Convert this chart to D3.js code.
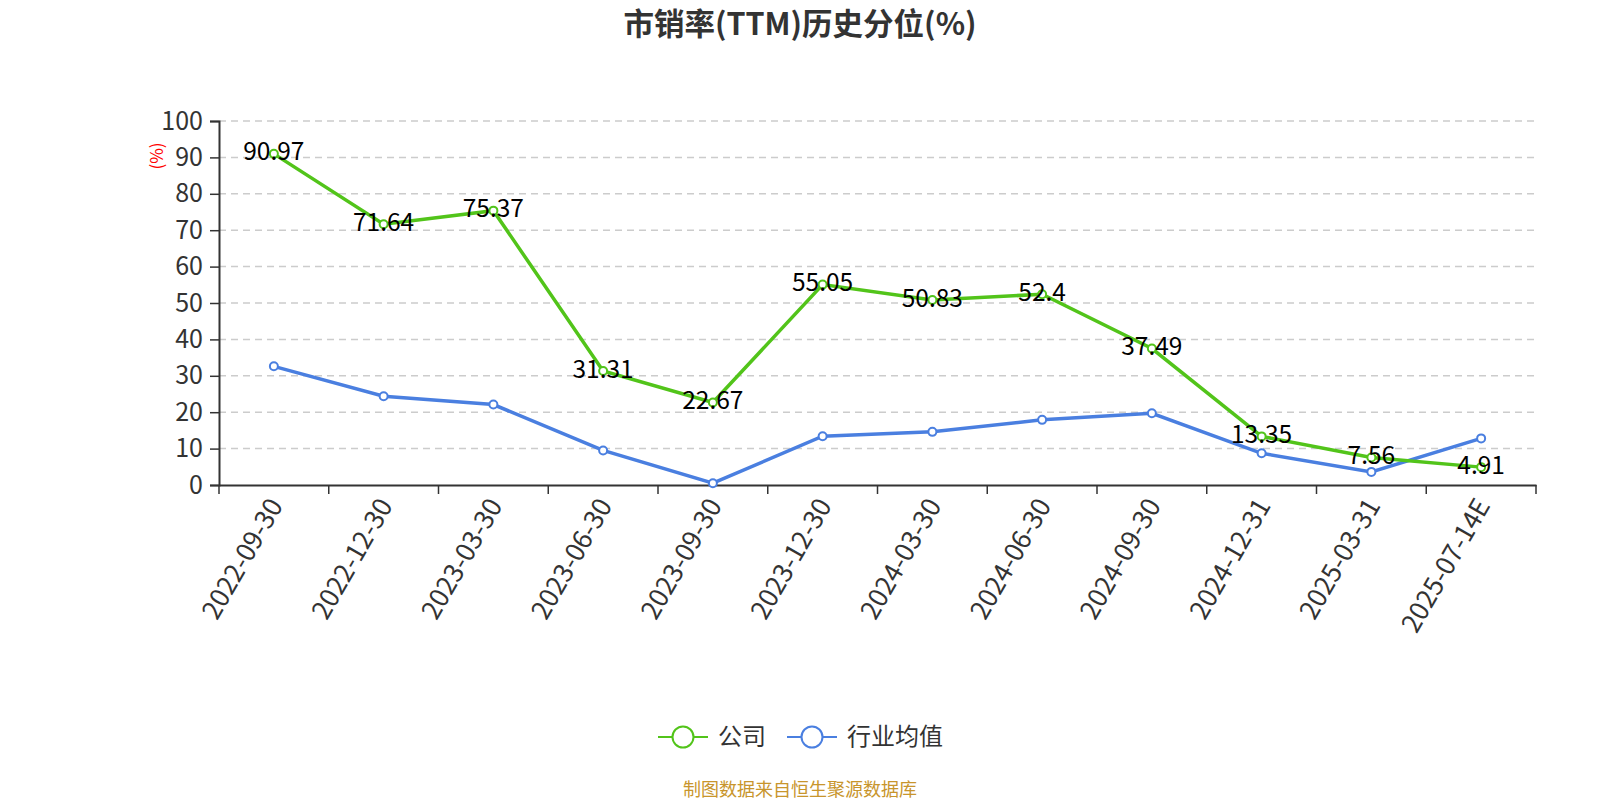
<!DOCTYPE html>
<html lang="zh">
<head>
<meta charset="UTF-8" />
<script src="https://d3js.org/d3.v7.min.js"></script>
<title>市销率(TTM)历史分位(%)</title>
<style>
  body { margin: 0; background: #fff; }
  svg text { font-family: "Noto Sans CJK SC", "Noto Sans", sans-serif; }
</style>
</head>
<body>
<script>
  const dates = ["2022-09-30", "2022-12-30", "2023-03-30", "2023-06-30", "2023-09-30", "2023-12-30",
    "2024-03-30", "2024-06-30", "2024-09-30", "2024-12-31", "2025-03-31", "2025-07-14E"];
  const company = [90.97, 71.64, 75.37, 31.31, 22.67, 55.05, 50.83, 52.4, 37.49, 13.35, 7.56, 4.91];
  const industry = [32.6, 24.4, 22.1, 9.5, 0.5, 13.4, 14.6, 17.9, 19.7, 8.7, 3.6, 12.8];
  const yTicks = [0, 10, 20, 30, 40, 50, 60, 70, 80, 90, 100];

  const W = 1600, H = 800;
  const plotLeft = 219, plotRight = 1536, plotTop = 121, plotBottom = 485;

  const svg = d3.select("body").append("svg").attr("width", W).attr("height", H);

  const x = d3.scaleBand().domain(dates).range([plotLeft, plotRight]);
  const y = d3.scaleLinear().domain([0, 100]).range([plotBottom, plotTop]);
  const cx = d => x(d) + x.bandwidth() / 2;

  // title
  svg.append("text")
    .attr("x", 800).attr("y", 35)
    .attr("text-anchor", "middle")
    .style("font-size", "30.5px").style("font-weight", "bold").attr("fill", "#333")
    .text("市销率(TTM)历史分位(%)");

  // grid
  svg.append("g").selectAll("line").data(yTicks.filter(d => d > 0)).join("line")
    .attr("x1", plotLeft).attr("x2", plotRight)
    .attr("y1", d => y(d)).attr("y2", d => y(d))
    .attr("stroke", "#ccc").attr("stroke-width", 1.5).attr("stroke-dasharray", "7,5");

  // y axis
  const yAxis = svg.append("g").attr("transform", `translate(${plotLeft},0)`)
    .call(d3.axisLeft(y).tickValues(yTicks).tickSize(9).tickPadding(7));
  yAxis.select(".domain").attr("stroke", "#333").attr("stroke-width", 2);
  yAxis.selectAll(".tick line").attr("stroke", "#333").attr("stroke-width", 1.5);
  yAxis.selectAll(".tick text").style("font-size", "25px").attr("fill", "#333");

  svg.append("text")
    .attr("transform", "translate(163,156) rotate(-90)")
    .attr("text-anchor", "middle")
    .style("font-size", "17px").attr("fill", "red")
    .text("(%)");

  // x axis
  const xAxis = svg.append("g").attr("transform", `translate(0,${plotBottom})`)
    .call(d3.axisBottom(x).tickSize(0).tickSizeOuter(0));
  xAxis.select(".domain").attr("stroke", "#333").attr("stroke-width", 2);
  xAxis.selectAll(".tick text")
    .style("font-size", "26px").attr("fill", "#333")
    .attr("text-anchor", "end")
    .attr("transform", "translate(2,16) rotate(-60)")
    .attr("dy", "0.35em").attr("x", 0).attr("y", 0);
  const boundaries = dates.map(d => x(d)).concat([plotRight]);
  svg.append("g").selectAll("line").data(boundaries).join("line")
    .attr("x1", d => d).attr("x2", d => d)
    .attr("y1", plotBottom).attr("y2", plotBottom + 9)
    .attr("stroke", "#333").attr("stroke-width", 1.5);

  const series = [
    { name: "公司", values: company, color: "#52c41a" },
    { name: "行业均值", values: industry, color: "#4a7fe0" }
  ];

  const line = d3.line().x((d, i) => cx(dates[i])).y(d => y(d));

  series.slice().reverse().forEach(s => {
    const g = svg.append("g");
    g.append("path").datum(s.values)
      .attr("d", line).attr("fill", "none")
      .attr("stroke", s.color).attr("stroke-width", 3.5);
    g.selectAll("circle").data(s.values).join("circle")
      .attr("cx", (d, i) => cx(dates[i])).attr("cy", d => y(d))
      .attr("r", 4).attr("fill", "#fff")
      .attr("stroke", s.color).attr("stroke-width", 2);
  });

  // labels for company
  svg.append("g").selectAll("text").data(company).join("text")
    .attr("x", (d, i) => cx(dates[i])).attr("y", d => y(d) - 2)
    .attr("text-anchor", "middle").attr("dy", "0.35em")
    .style("font-size", "24.5px").attr("fill", "#000")
    .text(d => d);

  // legend
  const legend = [
    { name: "公司", color: "#52c41a", x: 658 },
    { name: "行业均值", color: "#4a7fe0", x: 787 }
  ];
  legend.forEach(l => {
    const g = svg.append("g");
    g.append("line").attr("x1", l.x).attr("x2", l.x + 50)
      .attr("y1", 737).attr("y2", 737)
      .attr("stroke", l.color).attr("stroke-width", 2);
    g.append("circle").attr("cx", l.x + 25).attr("cy", 737).attr("r", 10.5)
      .attr("fill", "#fff").attr("stroke", l.color).attr("stroke-width", 2);
    g.append("text").attr("x", l.x + 60).attr("y", 737).attr("dy", "0.35em")
      .style("font-size", "24px").attr("fill", "#333").text(l.name);
  });

  svg.append("text")
    .attr("x", 800).attr("y", 796)
    .attr("text-anchor", "middle")
    .style("font-size", "18px").attr("fill", "#c8952c")
    .text("制图数据来自恒生聚源数据库");
</script>
</body>
</html>
